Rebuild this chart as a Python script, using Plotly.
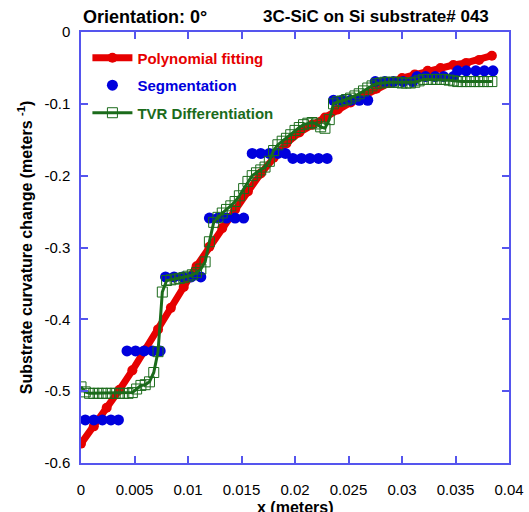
import plotly.graph_objects as go

# ---------------- data ----------------
poly_x = [0.0, 0.0012, 0.0024, 0.0036, 0.0048, 0.006, 0.0072, 0.0084, 0.0096, 0.0108,
          0.012, 0.0132, 0.0144, 0.0156, 0.0168, 0.018, 0.0192, 0.0204, 0.0216, 0.0228,
          0.024, 0.0252, 0.0264, 0.0276, 0.0288, 0.03, 0.0312, 0.0324, 0.0336, 0.0348,
          0.036, 0.0372, 0.0384]
poly_y = [-0.573, -0.549, -0.523, -0.498, -0.471, -0.443, -0.414, -0.384, -0.355, -0.326,
          -0.299, -0.273, -0.247, -0.222, -0.197, -0.175, -0.155, -0.140, -0.129, -0.119,
          -0.108, -0.098, -0.089, -0.079, -0.071, -0.064, -0.059, -0.054, -0.050, -0.046,
          -0.043, -0.039, -0.033]

seg_x = [0.0004, 0.0012, 0.0020, 0.0028, 0.0035,
         0.0043, 0.0051, 0.0059, 0.0067, 0.0074,
         0.0079, 0.0087, 0.0095, 0.0103, 0.0112,
         0.0120, 0.0128, 0.0136, 0.0144, 0.0152,
         0.0160, 0.0168, 0.0176, 0.0184, 0.0191,
         0.0198, 0.0206, 0.0214, 0.0222, 0.0230,
         0.0236, 0.0244, 0.0252, 0.0260, 0.0268,
         0.0275, 0.0284, 0.0292, 0.0301, 0.0310,
         0.0314, 0.0322, 0.0331, 0.0339, 0.0348,
         0.0352, 0.0360, 0.0369, 0.0377, 0.0385]
seg_y = [-0.540] * 5 + [-0.444] * 5 + [-0.341] * 5 + [-0.259] * 5 + [-0.169] * 5 + \
        [-0.176] * 5 + [-0.095] * 5 + [-0.069] * 5 + [-0.062] * 5 + [-0.054] * 5

tvr_x = [0.0000, 0.0004, 0.0008, 0.0012, 0.0016, 0.0020, 0.0024, 0.0028, 0.0032, 0.0036,
         0.0040, 0.0044, 0.0048, 0.0052, 0.0056, 0.0060, 0.0064, 0.0068, 0.0072, 0.0076,
         0.0080, 0.0084, 0.0088, 0.0092, 0.0096, 0.0100, 0.0104, 0.0108, 0.0112, 0.0116,
         0.0120, 0.0124, 0.0128, 0.0132, 0.0136, 0.0140, 0.0144, 0.0148, 0.0152, 0.0156,
         0.0160, 0.0164, 0.0168, 0.0172, 0.0176, 0.0180, 0.0184, 0.0188, 0.0192, 0.0196,
         0.0200, 0.0204, 0.0208, 0.0212, 0.0216, 0.0220, 0.0224, 0.0228, 0.0232, 0.0236,
         0.0240, 0.0244, 0.0248, 0.0252, 0.0256, 0.0260, 0.0264, 0.0268, 0.0272, 0.0276,
         0.0280, 0.0284, 0.0288, 0.0292, 0.0296, 0.0300, 0.0304, 0.0308, 0.0312, 0.0316,
         0.0320, 0.0324, 0.0328, 0.0332, 0.0336, 0.0340, 0.0344, 0.0348, 0.0352, 0.0356,
         0.0360, 0.0364, 0.0368, 0.0372, 0.0376, 0.0380, 0.0384]
tvr_y = [-0.494, -0.501, -0.503, -0.503, -0.503, -0.503, -0.503, -0.503, -0.503, -0.503,
         -0.503, -0.503, -0.502, -0.497, -0.492, -0.491, -0.487, -0.474, -0.445, -0.362,
         -0.346, -0.345, -0.344, -0.343, -0.342, -0.340, -0.338, -0.335, -0.330, -0.320,
         -0.292, -0.265, -0.258, -0.252, -0.247, -0.242, -0.236, -0.228, -0.218, -0.208,
         -0.200, -0.196, -0.192, -0.188, -0.180, -0.165, -0.157, -0.152, -0.148, -0.143,
         -0.137, -0.133, -0.129, -0.127, -0.126, -0.128, -0.132, -0.134, -0.122, -0.100,
         -0.097, -0.096, -0.094, -0.092, -0.089, -0.086, -0.082, -0.078, -0.075, -0.072,
         -0.071, -0.070, -0.070, -0.070, -0.070, -0.071, -0.071, -0.071, -0.070, -0.068,
         -0.066, -0.066, -0.066, -0.066, -0.066, -0.066, -0.067, -0.068, -0.069, -0.069,
         -0.069, -0.069, -0.069, -0.069, -0.069, -0.069, -0.069]

x_ticks = [0, 0.005, 0.01, 0.015, 0.02, 0.025, 0.03, 0.035, 0.04]
x_tick_labels = ["0", "0.005", "0.01", "0.015", "0.02", "0.025", "0.03", "0.035", "0.04"]
y_ticks = [0, -0.1, -0.2, -0.3, -0.4, -0.5, -0.6]
y_tick_labels = ["0", "-0.1", "-0.2", "-0.3", "-0.4", "-0.5", "-0.6"]

# ---------------- style ----------------
RED = "#e60000"
BLUE = "#0000dd"
GREEN = "#1b6b1b"
AXIS = "#5555ee"
FONT = "Liberation Sans, Arial, sans-serif"

fig = go.Figure()
fig.add_trace(go.Scatter(
    x=poly_x, y=poly_y, mode="lines+markers",
    name=f'<b><span style="color:{RED}">Polynomial fitting</span></b>',
    line=dict(color=RED, width=7),
    marker=dict(symbol="circle", size=10, color=RED),
    legendgroup="a",
))
fig.add_trace(go.Scatter(
    x=seg_x, y=seg_y, mode="markers",
    name=f'<b><span style="color:{BLUE}">Segmentation</span></b>',
    marker=dict(symbol="circle", size=11, color=BLUE),
    legendgroup="b",
))
fig.add_trace(go.Scatter(
    x=tvr_x, y=tvr_y, mode="lines+markers",
    name=f'<b><span style="color:{GREEN}">TVR Differentiation</span></b>',
    line=dict(color=GREEN, width=3),
    marker=dict(symbol="square-open", size=10, color=GREEN, line=dict(width=1, color=GREEN)),
    legendgroup="c",
))

axis_common = dict(
    showline=True, linecolor=AXIS, linewidth=1.5, mirror="ticks",
    ticks="inside", ticklen=7, tickcolor=AXIS, tickwidth=1.5,
    showgrid=False, zeroline=False, automargin=False,
    tickfont=dict(family=FONT, size=15, color="black"),
)

fig.update_layout(
    width=529, height=512,
    margin=dict(l=81, r=20, t=32, b=49),
    paper_bgcolor="white", plot_bgcolor="white",
    font=dict(family=FONT, color="black"),
    showlegend=True,
    legend=dict(
        x=0.015, y=0.978, xanchor="left", yanchor="top",
        bgcolor="rgba(0,0,0,0)", font=dict(family=FONT, size=15),
        traceorder="grouped", tracegroupgap=5, itemwidth=40,
    ),
    xaxis=dict(
        range=[0, 0.04], tickvals=x_ticks, ticktext=x_tick_labels,
        ticklabelstandoff=12,
        **axis_common,
    ),
    yaxis=dict(
        range=[-0.6, 0], tickvals=y_ticks, ticktext=y_tick_labels,
        ticklabelstandoff=6,
        title=dict(text="<b>Substrate curvature change (meters <sup>-1</sup>)</b>",
                   font=dict(family=FONT, size=16), standoff=8),
        **axis_common,
    ),
    annotations=[
        dict(text="<b>Orientation: 0°</b>", xref="paper", yref="paper",
             x=0.0, y=1.035, xanchor="left", yanchor="middle", showarrow=False,
             font=dict(family=FONT, size=18, color="black")),
        dict(text="<b>3C-SiC on Si substrate# 043</b>", xref="paper", yref="paper",
             x=0.958, y=1.035, xanchor="right", yanchor="middle", showarrow=False,
             font=dict(family=FONT, size=17, color="black")),
        dict(text="<b>x (meters)</b>", xref="paper", yref="paper",
             x=0.5, y=-0.103, xanchor="center", yanchor="middle", showarrow=False,
             font=dict(family=FONT, size=16, color="black")),
    ],
)

fig.write_html("out.html")
